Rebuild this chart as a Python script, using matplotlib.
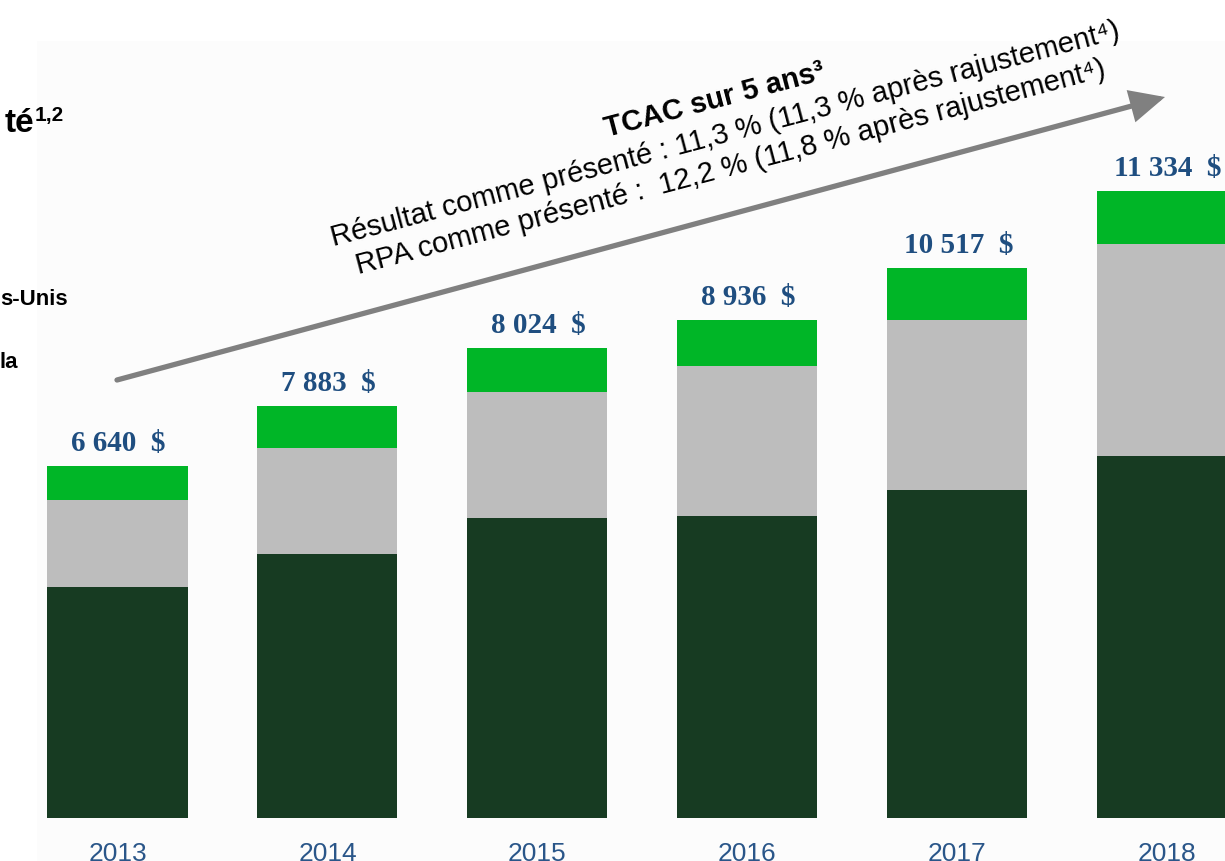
import matplotlib
matplotlib.use('Agg')
import matplotlib.pyplot as plt
import numpy as np
from matplotlib.patches import Rectangle

# ---- data (C$ millions) ----
years = ['2013', '2014', '2015', '2016', '2017', '2018']
canada = [4349, 4982, 5655, 5693, 6183, 6829]        # dark green
us = [1651, 1992, 2375, 2828, 3205, 3985]            # grey
wholesale = [641, 792, 829, 861, 975, 1010]          # bright green
total_labels = ['6 640  $', '7 883  $', '8 024  $', '8 936  $', '10 517  $', '11 334  $']

W, H = 1225, 862
fig = plt.figure(figsize=(W / 100, H / 100), dpi=100)
fig.patch.set_facecolor('white')


def fx(px):
    return px / W


def fy(py):
    return 1 - py / H


fig.patches.append(Rectangle((fx(37), 0), 1 - fx(37), fy(42), transform=fig.transFigure,
                             facecolor='#fcfcfc', edgecolor='none', zorder=0))

ax = fig.add_axes([0, 0, 1, 1])
ax.set_zorder(1)
ax.set_facecolor('none')
ax.axis('off')

x = np.arange(len(years))
bw = 0.667
c = np.array(canada)
u = np.array(us)
w = np.array(wholesale)
ax.bar(x, c, bw, color='#173b22', zorder=2)
ax.bar(x, u, bw, bottom=c, color='#bdbdbd', zorder=2)
ax.bar(x, w, bw, bottom=c + u, color='#00b627', zorder=2)
tot = c + u + w

k = 18.85
ax.set_xlim(-117.5 / 209.95, (W - 117.5) / 209.95)
ax.set_ylim(-(H - 819) * k, 819 * k)

for xi, t, lbl in zip(x, tot, total_labels):
    ax.annotate(lbl, (xi, t), xytext=(1, 16), textcoords='offset pixels',
                ha='center', va='baseline', fontsize=21, fontweight='bold',
                family='Liberation Serif', color='#1f4e80')

for xi, yr in zip(x, years):
    ax.text(xi, -(861 - 819) * k, yr, ha='center', va='baseline', fontsize=19,
            color='#2a5689', family='Liberation Sans')

# growth arrow
ax.annotate('', xy=(fx(1165), fy(98)), xytext=(fx(117), fy(381)),
            xycoords='figure fraction', textcoords='figure fraction',
            arrowprops=dict(arrowstyle='-|>,head_length=0.95,head_width=0.45',
                            mutation_scale=20, lw=3.8, color='#808080',
                            shrinkA=0, shrinkB=0, joinstyle='miter'))

ang = 14.8
fam = ['Liberation Sans', 'DejaVu Sans']
fig.text(fx(717), fy(108), 'TCAC sur 5 ans³', rotation=ang, rotation_mode='anchor',
         ha='center', va='baseline', fontsize=21, fontweight='bold', family=fam, zorder=3)
fig.text(fx(727), fy(142), 'Résultat comme présenté : 11,3 % (11,3 % après rajustement⁴)',
         rotation=ang, rotation_mode='anchor', ha='center', va='baseline',
         fontsize=21, family=fam, zorder=3)
fig.text(fx(733), fy(175), 'RPA comme présenté :  12,2 % (11,8 % après rajustement⁴)',
         rotation=ang, rotation_mode='anchor', ha='center', va='baseline',
         fontsize=21, family=fam, zorder=3)

# partial title / legend labels (cut at left edge)
fig.text(fx(34), fy(132), 'té', ha='right', va='baseline', fontsize=24,
         fontweight='bold', family='Liberation Sans', zorder=3)
fig.text(fx(35), fy(121), '1,2', ha='left', va='baseline', fontsize=15,
         fontweight='bold', family='Liberation Sans', zorder=3)
fig.text(fx(68), fy(305), 's-Unis', ha='right', va='baseline', fontsize=16,
         fontweight='bold', family='Liberation Sans', zorder=3)
fig.text(fx(18), fy(368), 'la', ha='right', va='baseline', fontsize=16,
         fontweight='bold', family='Liberation Sans', zorder=3)

fig.savefig('out.png', dpi=100, facecolor=fig.get_facecolor())
